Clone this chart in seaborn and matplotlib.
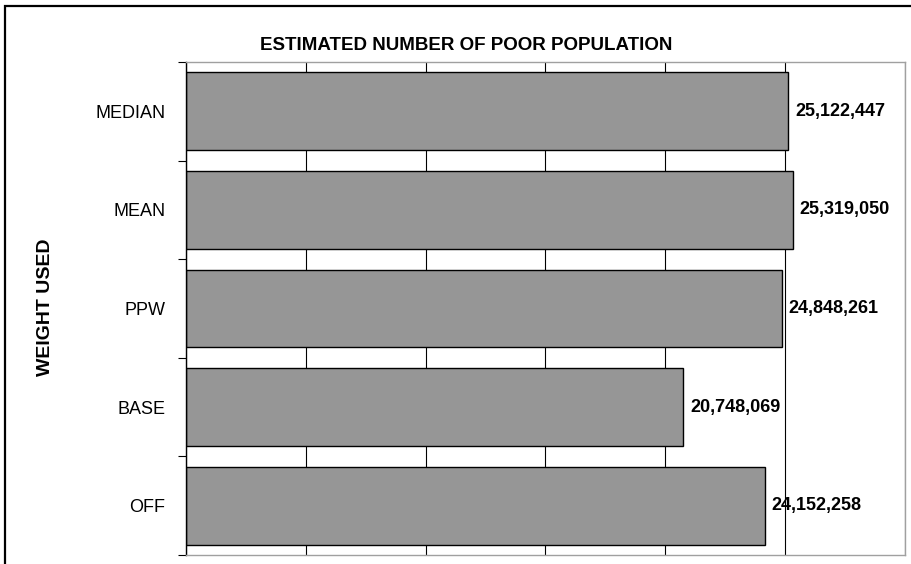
import matplotlib
matplotlib.use("Agg")
import matplotlib.pyplot as plt
from matplotlib.patches import Rectangle
import pandas as pd
import seaborn as sns

# --- Data ---
weights = ["MEDIAN", "MEAN", "PPW", "BASE", "OFF"]
poor_population = [25122447, 25319050, 24848261, 20748069, 24152258]
grid_steps = [0, 5000000, 10000000, 15000000, 20000000, 25000000, 30000000]

df = pd.DataFrame({"weight": weights, "poor": poor_population})

sns.set_theme(style="white")
plt.rcParams["font.family"] = ["Liberation Sans", "DejaVu Sans"]

fig = plt.figure(figsize=(9.12, 5.64), dpi=100)
ax = fig.add_axes([186 / 912, 1 - 555 / 564, (905 - 186) / 912, (555 - 62) / 564])

# --- Plotting BARH ---
sns.barplot(data=df, x="poor", y="weight", orient="h", color="#969696",
            saturation=1, edgecolor="black", linewidth=1.0, width=0.79, ax=ax)

ax.set_xlim(grid_steps[0], grid_steps[-1])
ax.set_xticks(grid_steps)
ax.set_xticklabels([])
ax.tick_params(axis="x", length=0)
ax.grid(axis="x", color="black", linewidth=0.8)
ax.set_axisbelow(True)
ax.set_xlabel("")

# ticks between categories on the left axis
ax.set_yticks([i - 0.5 for i in range(len(weights) + 1)], minor=True)
ax.tick_params(axis="y", which="minor", left=True, length=6, width=0.8, color="black")
ax.tick_params(axis="y", which="major", length=0, pad=15, labelsize=13, labelcolor="black")

for side in ["top", "right", "bottom"]:
    ax.spines[side].set_color("#a0a0a0")
    ax.spines[side].set_linewidth(1.0)
ax.spines["left"].set_color("black")
ax.spines["left"].set_linewidth(1.0)

ax.bar_label(ax.containers[0], labels=[f"{v:,}" for v in poor_population],
             padding=5, fontsize=13, fontweight="bold", color="black", clip_on=False)

ax.set_ylabel("")
fig.text(46 / 912, 1 - 307 / 564, "WEIGHT USED", rotation=90, ha="center", va="center",
         fontsize=14, fontweight="bold", color="black")
fig.text(466 / 912, 1 - 45 / 564, "ESTIMATED NUMBER OF POOR POPULATION", ha="center",
         va="center", fontsize=13.5, fontweight="bold", color="black")

# outer chart frame
fig.patches.append(Rectangle((5 / 912, -0.05), 1.2, 1 - 6 / 564 + 0.05, transform=fig.transFigure,
                             fill=False, edgecolor="black", linewidth=1.6, zorder=0))

plt.savefig("out.png", dpi=100)
plt.close()
